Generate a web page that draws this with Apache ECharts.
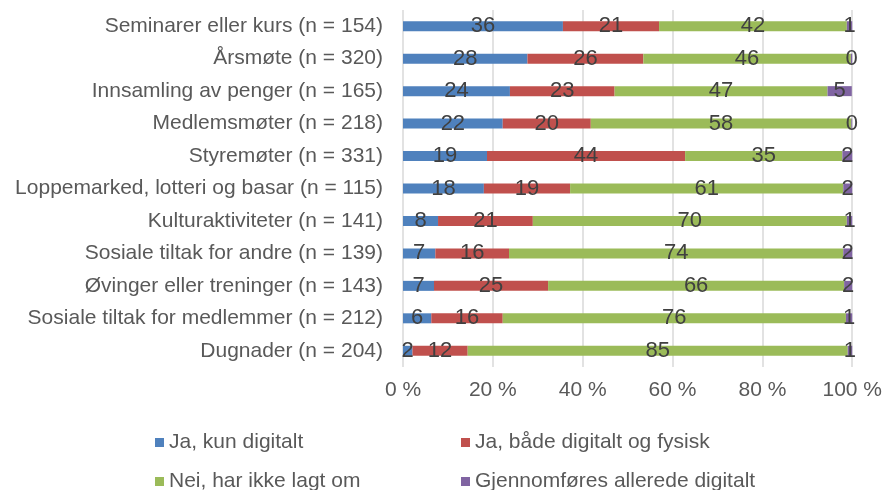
<!DOCTYPE html>
<html>
<head>
<meta charset="utf-8">
<script src="https://cdn.jsdelivr.net/npm/echarts@6/dist/echarts.min.js"></script>
<style>
  html, body { margin: 0; padding: 0; background: #fff; }
  #chart { width: 885px; height: 490px; }
</style>
</head>
<body>
<div id="chart"></div>
<script>
// kategorier, øverst først
const categories = [
  'Seminarer eller kurs (n = 154)',
  'Årsmøte (n = 320)',
  'Innsamling av penger (n = 165)',
  'Medlemsmøter (n = 218)',
  'Styremøter (n = 331)',
  'Loppemarked, lotteri og basar (n = 115)',
  'Kulturaktiviteter (n = 141)',
  'Sosiale tiltak for andre (n = 139)',
  'Øvinger eller treninger (n = 143)',
  'Sosiale tiltak for medlemmer (n = 212)',
  'Dugnader (n = 204)'
];
const seriesNames = [
  'Ja, kun digitalt',
  'Ja, både digitalt og fysisk',
  'Nei, har ikke lagt om',
  'Gjennomføres allerede digitalt'
];
// prosent per kategori
const kunDigitalt = [35.6, 27.7, 23.8, 22.2, 18.7, 18.0, 7.8, 7.2, 6.9, 6.3, 2.1];
const begge = [21.4, 25.8, 23.3, 19.6, 44.1, 19.2, 21.1, 16.4, 25.4, 15.9, 12.3];
const ikkeLagtOm = [41.8, 46.2, 47.4, 58.0, 35.0, 60.8, 69.9, 74.4, 65.9, 76.4, 84.6];
const alleredeDigitalt = [1.2, 0.3, 5.4, 0.2, 2.2, 2.0, 1.2, 2.0, 1.8, 1.4, 1.0];
const xTicks = [0, 20, 40, 60, 80, 100];

const colors = ['#4f81bd', '#c0504d', '#9bbb59', '#8064a2'];
const font = 'Liberation Sans, Arial, sans-serif';

const chart = echarts.init(document.getElementById('chart'));

function makeSeries(name, data) {
  return {
    name: name,
    type: 'bar',
    stack: 'total',
    barWidth: 10,
    data: data,
    label: {
      show: true,
      position: 'inside',
      color: '#404040',
      fontSize: 22,
      fontFamily: font,
      formatter: p => Math.round(p.value)
    }
  };
}

const legendText = { color: '#595959', fontSize: 21, fontFamily: font };

// to kolonner i legenden
function makeLegend(names, left) {
  return {
    data: names,
    orient: 'vertical',
    left: left,
    top: 427,
    height: 100,
    itemGap: 18,
    itemWidth: 9,
    itemHeight: 9,
    icon: 'rect',
    textStyle: legendText
  };
}

const option = {
  animation: false,
  color: colors,
  grid: { left: 403, right: 30, top: 10, bottom: 123 },
  legend: [
    makeLegend([seriesNames[0], seriesNames[2]], 150),
    makeLegend([seriesNames[1], seriesNames[3]], 456)
  ],
  xAxis: {
    type: 'value',
    min: xTicks[0],
    max: xTicks[xTicks.length - 1],
    interval: 20,
    axisLine: { show: false },
    axisTick: { show: false },
    splitLine: { lineStyle: { color: '#d9d9d9', width: 1.5 } },
    axisLabel: {
      color: '#595959',
      fontSize: 21,
      fontFamily: font,
      margin: 13,
      formatter: '{value} %'
    }
  },
  yAxis: {
    type: 'category',
    inverse: true,
    data: categories,
    axisLine: { show: false },
    axisTick: { show: false },
    axisLabel: {
      color: '#595959',
      fontSize: 21,
      fontFamily: font,
      margin: 20
    }
  },
  series: [
    makeSeries(seriesNames[0], kunDigitalt),
    makeSeries(seriesNames[1], begge),
    makeSeries(seriesNames[2], ikkeLagtOm),
    makeSeries(seriesNames[3], alleredeDigitalt)
  ]
};

chart.setOption(option);
</script>
</body>
</html>
